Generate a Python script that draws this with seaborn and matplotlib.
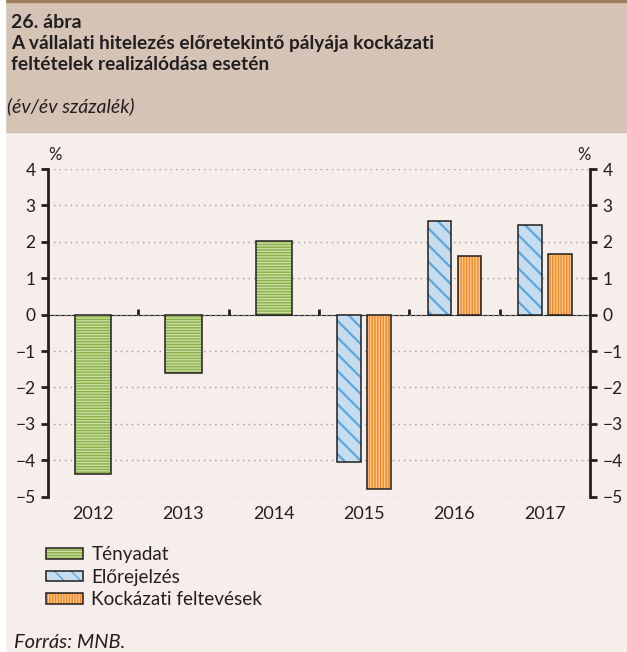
import numpy as np
import pandas as pd
import matplotlib
matplotlib.use("Agg")
import matplotlib.pyplot as plt
from matplotlib.patches import Rectangle, Patch
from matplotlib.legend_handler import HandlerTuple
import seaborn as sns

# data
years = ["2012", "2013", "2014", "2015", "2016", "2017"]
actual_years = ["2012", "2013", "2014"]
actual = [-4.39, -1.60, 2.03]
fc_years = ["2015", "2016", "2017"]
forecast = [-4.04, 2.56, 2.47]
risk = [-4.78, 1.60, 1.67]
series = ["Tényadat", "Előrejelzés", "Kockázati feltevések"]

DARK = "#231f20"
HEAD_BG = "#d5c4b5"
BODY_BG = "#f5eeea"
face = {"Tényadat": "#8aaf45", "Előrejelzés": "#c6dcef", "Kockázati feltevések": "#f08a24"}
hcol = {"Tényadat": "#cadfa6", "Előrejelzés": "#5ea6da", "Kockázati feltevések": "#fcc68e"}
hatch = {"Tényadat": "------", "Előrejelzés": "\\\\", "Kockázati feltevések": "||||||"}
hlw = {"Tényadat": 1.0, "Előrejelzés": 1.6, "Kockázati feltevések": 1.0}

sns.set_style("white")
plt.rcParams["font.family"] = ["Lato", "DejaVu Sans"]
plt.rcParams["hatch.linewidth"] = 1.0

fig = plt.figure(figsize=(6.27, 6.52), dpi=100, facecolor=BODY_BG)
# header band and left strip
fig.patches.append(Rectangle((0, 1 - 132 / 652), 1, 132 / 652, transform=fig.transFigure,
                             color=HEAD_BG, zorder=0))
fig.patches.append(Rectangle((0, 1 - 2 / 652), 1, 2 / 652, transform=fig.transFigure,
                             color="#9e7d5c", zorder=1))
fig.patches.append(Rectangle((0, 0), 5 / 627, 1, transform=fig.transFigure,
                             color="white", zorder=2))

ax = fig.add_axes([48 / 627, 1 - 496.7 / 652, 542 / 627, (496.7 - 169) / 652])
ax.set_facecolor(BODY_BG)

df_act = pd.DataFrame({"year": actual_years, "value": actual})
df_fc = pd.DataFrame({
    "year": fc_years * 2,
    "series": [series[1]] * 3 + [series[2]] * 3,
    "value": forecast + risk,
})

sns.barplot(data=df_act, x="year", y="value", order=years, color=face[series[0]],
            saturation=1, width=0.405, errorbar=None, ax=ax,
            edgecolor=hcol[series[0]], linewidth=0, hatch=hatch[series[0]], zorder=3)
sns.barplot(data=df_fc, x="year", y="value", hue="series", order=years,
            hue_order=series[1:], palette=[face[s] for s in series[1:]],
            saturation=1, width=0.664, gap=0.21, errorbar=None, ax=ax,
            linewidth=0, legend=False, zorder=3)

for cont, name in zip(ax.containers, series):
    for p in cont.patches:
        p.set_hatch(hatch[name])
        p.set_edgecolor(hcol[name])
        p.set_linewidth(0)
        if hasattr(p, "set_hatch_linewidth"):
            p.set_hatch_linewidth(hlw[name])
        elif hasattr(p, "_hatch_linewidth"):
            p._hatch_linewidth = hlw[name]
        ax.add_patch(Rectangle(p.get_xy(), p.get_width(), p.get_height(), fill=False,
                               edgecolor=DARK, linewidth=1.1, zorder=4))

ax.set_ylim(-5, 4)
ax.set_xlim(-0.5, 5.5)
ax.set_xlabel("")
ax.set_ylabel("")
ax.set_yticks(range(-5, 5))
ax.set_yticklabels([str(v).replace("-", "\u2212") for v in range(-5, 5)])
ax.yaxis.grid(True, linestyle=(0, (1, 3)), color="#9a9a9a", linewidth=1)
ax.xaxis.grid(False)
ax.set_axisbelow(True)

for s in ["top", "bottom"]:
    ax.spines[s].set_visible(False)
for s in ["left", "right"]:
    ax.spines[s].set_linewidth(2)
    ax.spines[s].set_color(DARK)

ax.tick_params(axis="y", left=True, right=True, labelleft=True, labelright=True,
               direction="out", length=5, width=2, color=DARK, labelsize=12.5,
               labelcolor=DARK, pad=4)
ax.tick_params(axis="x", length=0, labelsize=13, labelcolor=DARK, pad=7)

# zero line with category separators
zero = ax.secondary_xaxis(5 / 9)
zero.set_xticks([0.5, 1.5, 2.5, 3.5, 4.5])
zero.set_xticklabels([])
zero.tick_params(direction="out", length=4, width=2, color=DARK)
zero.spines["bottom"].set_linewidth(2)
zero.spines["bottom"].set_color(DARK)

fig.text(55 / 627, 1 - 155 / 652, "%", ha="center", va="center", fontsize=12, color=DARK)
fig.text(584 / 627, 1 - 155 / 652, "%", ha="center", va="center", fontsize=12, color=DARK)

# header texts
fig.text(11 / 627, 1 - 28 / 652, "26. ábra", fontsize=14, fontweight="bold",
         color=DARK, va="baseline")
fig.text(11 / 627, 1 - 48.5 / 652, "A vállalati hitelezés előretekintő pályája kockázati",
         fontsize=13.8, fontweight="bold", color=DARK, va="baseline")
fig.text(11 / 627, 1 - 69.5 / 652, "feltételek realizálódása esetén",
         fontsize=13.8, fontweight="bold", color=DARK, va="baseline")
fig.text(7 / 627, 1 - 112 / 652, "(év/év százalék)", fontsize=14, fontstyle="italic",
         color=DARK, va="baseline")
fig.text(14 / 627, 1 - 643 / 652, "Forrás: MNB.", fontsize=14.5, fontstyle="italic",
         color=DARK, va="center")

# legend
handles = []
for name in series:
    h1 = Patch(facecolor=face[name], edgecolor=hcol[name], hatch=hatch[name], linewidth=0)
    if hasattr(h1, "set_hatch_linewidth"):
        h1.set_hatch_linewidth(hlw[name])
    h2 = Patch(facecolor="none", edgecolor=DARK, linewidth=1.1)
    handles.append((h1, h2))
fig.legend(handles, series, handler_map={tuple: HandlerTuple(ndivide=1)},
           loc="upper left", bbox_to_anchor=(46 / 627, 1 - 546 / 652), frameon=False,
           fontsize=13.6, handlelength=1.95, handleheight=0.5, handletextpad=0.45,
           labelspacing=0.3, borderpad=0, borderaxespad=0, labelcolor=DARK)

fig.savefig("out.png", dpi=100, facecolor=BODY_BG)
